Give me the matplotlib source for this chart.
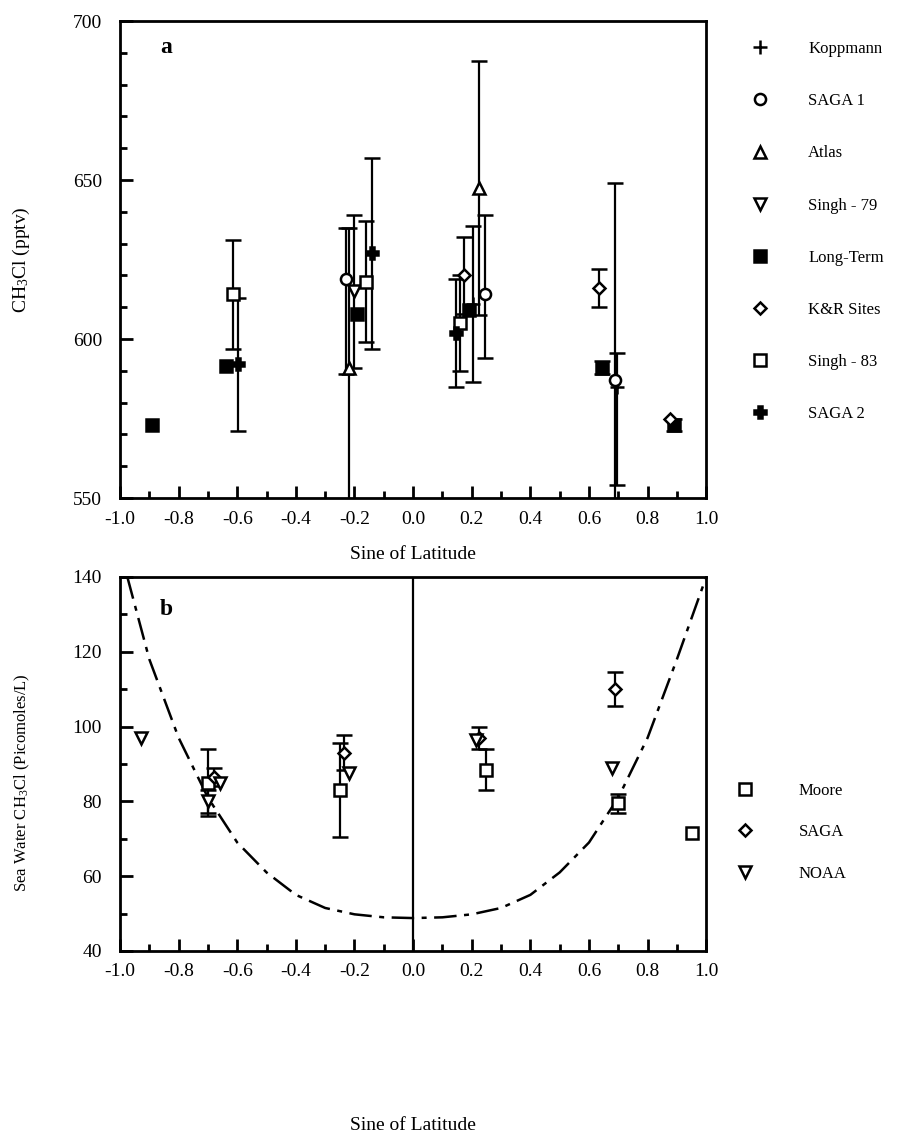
import numpy as np
import matplotlib.pyplot as plt
from matplotlib.ticker import MultipleLocator

plt.rcParams['font.family'] = ['Liberation Serif', 'DejaVu Serif']
plt.rcParams['mathtext.fontset'] = 'custom'
plt.rcParams['mathtext.rm'] = 'Liberation Serif'
plt.rcParams['mathtext.default'] = 'regular'

# ---- panel a : atmospheric CH3Cl (pptv) vs sine of latitude ----
# lower / upper error lengths (0 = no bar)
kop_x = [0.205, 0.695]
kop_y = [611, 585]
kop_lo = [24.5, 31]
kop_hi = [24.5, 10.5]

saga1_x = [-0.23, 0.245, 0.69]
saga1_y = [619, 614, 587]
saga1_lo = [30, 20, 62]
saga1_hi = [16, 25, 62]

atlas_x = [-0.22, 0.225]
atlas_y = [591, 647.5]
atlas_lo = [44, 40]
atlas_hi = [44, 40]

singh79_x = [-0.20]
singh79_y = [615]
singh79_lo = [24]
singh79_hi = [24]

lt_x = [-0.89, -0.64, -0.19, 0.19, 0.644, 0.89]
lt_y = [573, 591.5, 608, 609, 591, 573]
lt_lo = [0, 0, 0, 0, 2, 2]
lt_hi = [0, 0, 0, 0, 2, 2]

kr_x = [0.175, 0.633, 0.875]
kr_y = [620, 616, 575]
kr_lo = [12, 6, 0]
kr_hi = [12, 6, 0]

singh83_x = [-0.613, -0.16, 0.16]
singh83_y = [614, 618, 605]
singh83_lo = [17, 19, 15]
singh83_hi = [17, 19, 15]

saga2_x = [-0.596, -0.14, 0.145]
saga2_y = [592, 627, 602]
saga2_lo = [21, 30, 17]
saga2_hi = [21, 30, 17]

# ---- panel b : sea water CH3Cl (picomoles/L) ----
moore_x = [-0.70, -0.25, 0.25, 0.70, 0.95]
moore_y = [85, 83, 88.5, 79.5, 71.5]
moore_e = [9, 12.5, 5.5, 2.5, 0]

sagab_x = [-0.68, -0.235, 0.225, 0.69]
sagab_y = [86.5, 93, 97, 110]
sagab_e = [2.5, 4.7, 3, 4.5]

noaa_x = [-0.93, -0.70, -0.66, -0.22, 0.215, 0.68]
noaa_y = [97, 80, 85, 87.5, 96.5, 89]
noaa_e = [0, 3, 0, 0, 0, 0]

# dash-dot curve
curve_x = [-0.975, -0.9, -0.8, -0.7, -0.6, -0.5, -0.4, -0.3, -0.2, -0.1, 0.0,
           0.1, 0.2, 0.3, 0.4, 0.5, 0.6, 0.7, 0.8, 0.9, 1.0]
curve_y = [140, 118, 97, 81, 69, 61, 55, 51.5, 49.8, 49, 48.8,
           49, 49.8, 51.5, 55, 61, 69, 81, 97, 118, 140]


def series(ax, x, y, lo, hi, marker, label, filled=False, ms=8):
    x = np.array(x, float)
    y = np.array(y, float)
    lo = np.array(lo, float)
    hi = np.array(hi, float)
    m = (lo > 0) | (hi > 0)
    if m.any():
        ax.errorbar(x[m], y[m], yerr=[lo[m], hi[m]], fmt='none',
                    ecolor='black', elinewidth=1.6, capsize=6, capthick=1.8,
                    zorder=2)
    fc = 'black' if filled else 'white'
    if marker == '+':
        ax.plot(x, y, '+', color='black', ms=ms + 2, mew=1.8, ls='none',
                label=label, zorder=3)
    else:
        ax.plot(x, y, marker, mfc=fc, mec='black', mew=1.8, ms=ms,
                ls='none', label=label, zorder=3)


def style(ax):
    for s in ax.spines.values():
        s.set_linewidth(2)
    ax.tick_params(which='both', direction='in', top=False, right=False,
                   labelsize=14, width=2)
    ax.tick_params(which='major', length=9)
    ax.tick_params(which='minor', length=5)
    ax.tick_params(axis='x', which='major', pad=9)
    ax.tick_params(axis='y', which='major', pad=13)
    ax.xaxis.set_major_locator(MultipleLocator(0.2))
    ax.xaxis.set_minor_locator(MultipleLocator(0.1))
    ax.xaxis.set_major_formatter(plt.FuncFormatter(lambda v, p: '%.1f' % v))
    ax.set_xlim(-1.0, 1.0)


fig = plt.figure(figsize=(9.16, 11.37), dpi=100)
ax1 = fig.add_axes([0.131, 0.562, 0.640, 0.4195])
ax2 = fig.add_axes([0.131, 0.1636, 0.640, 0.329])

series(ax1, kop_x, kop_y, kop_lo, kop_hi, '+', 'Koppmann')
series(ax1, saga1_x, saga1_y, saga1_lo, saga1_hi, 'o', 'SAGA 1')
series(ax1, atlas_x, atlas_y, atlas_lo, atlas_hi, '^', 'Atlas')
series(ax1, singh79_x, singh79_y, singh79_lo, singh79_hi, 'v', 'Singh - 79')
series(ax1, lt_x, lt_y, lt_lo, lt_hi, 's', 'Long-Term', filled=True, ms=9)
series(ax1, kr_x, kr_y, kr_lo, kr_hi, 'D', 'K&R Sites', ms=6.5)
series(ax1, singh83_x, singh83_y, singh83_lo, singh83_hi, 's', 'Singh - 83')
series(ax1, saga2_x, saga2_y, saga2_lo, saga2_hi, 'P', 'SAGA 2',
       filled=True, ms=9)

style(ax1)
ax1.set_ylim(550, 700)
ax1.yaxis.set_major_locator(MultipleLocator(50))
ax1.yaxis.set_minor_locator(MultipleLocator(10))
ax1.set_xlabel('Sine of Latitude', fontsize=14, labelpad=13)
ax1.set_ylabel('CH$_3$Cl (pptv)', fontsize=14)
ax1.yaxis.set_label_coords(-0.15, 0.5)
ax1.text(0.068, 0.945, 'a', transform=ax1.transAxes, fontsize=17,
         fontweight='bold', va='center')
ax1.legend(loc='upper left', bbox_to_anchor=(1.04, 1.0), frameon=False,
           fontsize=12, labelspacing=2.17, handletextpad=2.3, borderpad=0.7,
           handlelength=1.2)

ax2.plot(curve_x, curve_y, color='black', lw=1.8, ls=(0, (9, 3, 2, 3)),
         zorder=1)
ax2.axvline(0, color='black', lw=1.6, zorder=1)
series(ax2, moore_x, moore_y, moore_e, moore_e, 's', 'Moore')
series(ax2, sagab_x, sagab_y, sagab_e, sagab_e, 'D', 'SAGA', ms=6.5)
series(ax2, noaa_x, noaa_y, noaa_e, noaa_e, 'v', 'NOAA')

style(ax2)
ax2.set_ylim(40, 140)
ax2.yaxis.set_major_locator(MultipleLocator(20))
ax2.yaxis.set_minor_locator(MultipleLocator(10))
ax2.set_xlabel('Sine of Latitude', fontsize=14, labelpad=98)
ax2.set_ylabel('Sea Water CH$_3$Cl (Picomoles/L)', fontsize=12)
ax2.yaxis.set_label_coords(-0.15, 0.45)
ax2.text(0.068, 0.912, 'b', transform=ax2.transAxes, fontsize=17,
         fontweight='bold', va='center')
ax2.legend(loc='center left', bbox_to_anchor=(1.024, 0.318), frameon=False,
           fontsize=12, labelspacing=1.53, handletextpad=2.6,
           handlelength=1.2)

fig.savefig('out.png', dpi=100)
